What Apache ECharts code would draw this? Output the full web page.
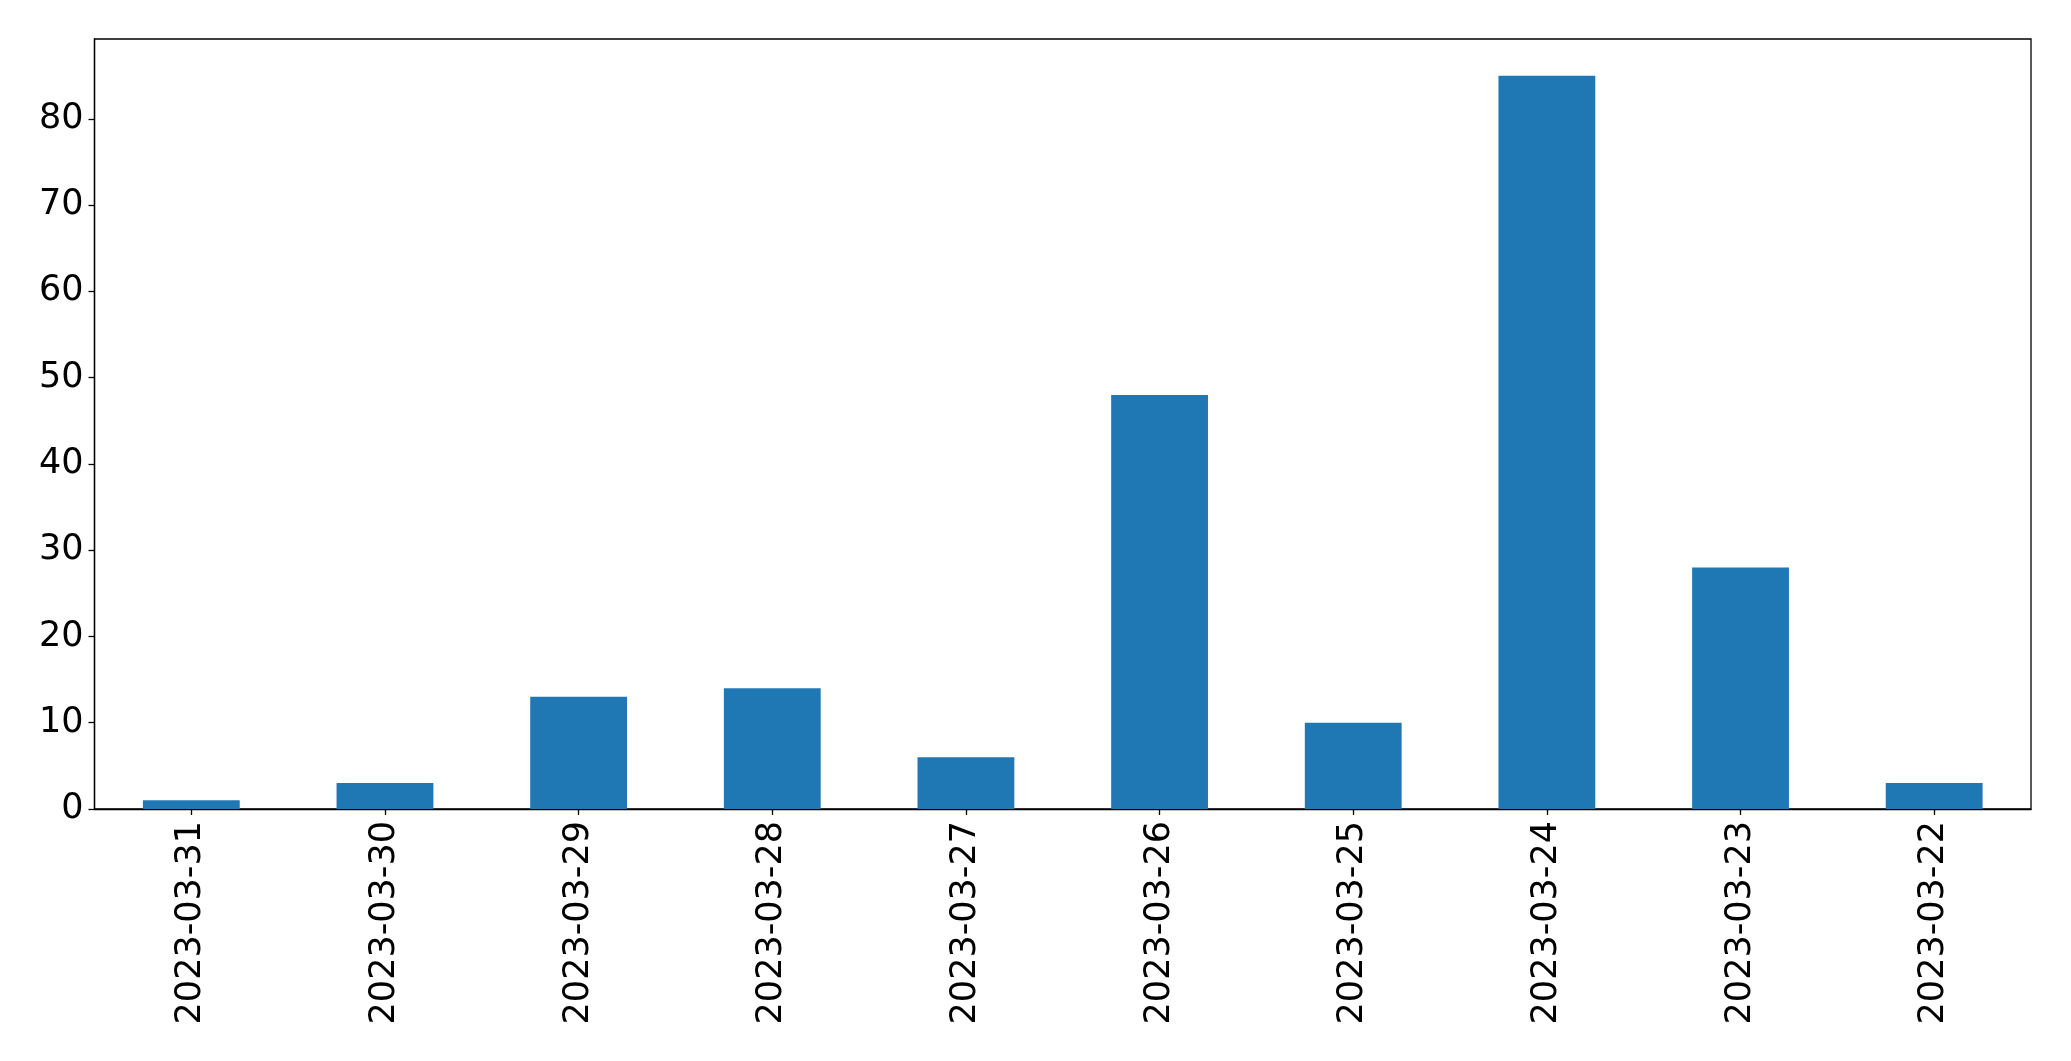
<!DOCTYPE html>
<html>
<head>
<meta charset="utf-8">
<script src="https://cdn.jsdelivr.net/npm/echarts@6/dist/echarts.min.js"></script>
<style>html,body{margin:0;padding:0;background:#fff;}#c{width:2071px;height:1061px;}</style>
</head>
<body>
<div id="c"></div>
<script>
const categories = ["2023-03-31","2023-03-30","2023-03-29","2023-03-28","2023-03-27","2023-03-26","2023-03-25","2023-03-24","2023-03-23","2023-03-22"];
const values = [1, 3, 13, 14, 6, 48, 10, 85, 28, 3];
const yTicks = [0, 10, 20, 30, 40, 50, 60, 70, 80];

const chart = echarts.init(document.getElementById('c'), null, {renderer: 'canvas'});
const font = 'DejaVu Sans';
chart.setOption({
  animation: false,
  backgroundColor: '#fff',
  grid: {left: 94.5, right: 40, top: 39, bottom: 252, show: true, borderColor: '#000', borderWidth: 1.3, containLabel: false},
  xAxis: {
    type: 'category',
    data: categories,
    boundaryGap: true,
    axisLine: {show: true, lineStyle: {color: '#000', width: 1.3}},
    axisTick: {show: true, alignWithLabel: true, length: 6, lineStyle: {color: '#000', width: 1.3}},
    axisLabel: {rotate: 90, fontFamily: font, fontSize: 35, color: '#000', margin: 12, interval: 0}
  },
  yAxis: {
    type: 'value',
    min: 0,
    max: 89.25,
    interval: 10,
    splitLine: {show: false},
    axisLine: {show: true, lineStyle: {color: '#000', width: 1.3}},
    axisTick: {show: true, length: 6, lineStyle: {color: '#000', width: 1.3}, customValues: yTicks},
    axisLabel: {fontFamily: font, fontSize: 35, color: '#000', margin: 11, customValues: yTicks}
  },
  series: [{
    type: 'bar',
    data: values,
    barWidth: '50%',
    itemStyle: {color: '#1f77b4'}
  }]
});
</script>
</body>
</html>
